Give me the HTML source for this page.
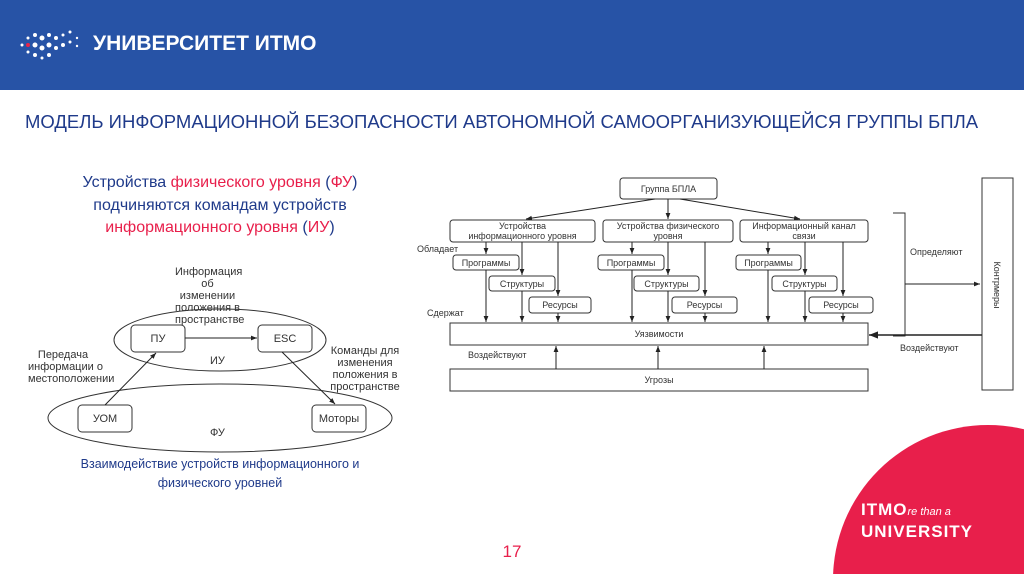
<!DOCTYPE html>
<html><head><meta charset="utf-8"><style>
html,body{margin:0;width:1024px;height:574px;overflow:hidden}
body{background:#fff;font-family:"Liberation Sans","DejaVu Sans",sans-serif;position:relative}
.hdr{position:absolute;left:0;top:0;width:1024px;height:90px;background:#2753a6}
.t{position:absolute;white-space:nowrap}
</style></head><body>
<div class="hdr"></div>
<svg style="position:absolute;left:0;top:0" width="1024" height="574">
<defs><marker id="a" viewBox="0 0 10 10" refX="10" refY="5" markerWidth="6" markerHeight="6" orient="auto"><path d="M0,1 L10,5 L0,9 z" fill="#222"/></marker></defs>
<g fill="#fff">
<circle cx="22" cy="45" r="1.5"/><circle cx="28" cy="38" r="1.5"/><circle cx="28" cy="52" r="1.5"/>
<circle cx="35" cy="35" r="2"/><circle cx="35" cy="45" r="2.5"/><circle cx="35" cy="55" r="2"/>
<circle cx="42" cy="38" r="2.5"/><circle cx="42" cy="48" r="2.5"/><circle cx="42" cy="58" r="1.5"/>
<circle cx="49" cy="35" r="2"/><circle cx="49" cy="45" r="2.5"/><circle cx="49" cy="55" r="2"/>
<circle cx="56" cy="38" r="2"/><circle cx="56" cy="48" r="2"/><circle cx="63" cy="35" r="1.5"/><circle cx="63" cy="45" r="2"/><circle cx="70" cy="32" r="1.5"/><circle cx="70" cy="42" r="1.5"/><circle cx="77" cy="38" r="1.2"/><circle cx="77" cy="46" r="1.2"/>
</g>
<circle cx="28" cy="45" r="2" fill="#e8244a"/>
<circle cx="988" cy="580" r="155" fill="#e81f4b"/>
<g fill="none" stroke="#333" stroke-width="1">
<ellipse cx="220" cy="340" rx="106" ry="31"/>
<ellipse cx="220" cy="418" rx="172" ry="34"/>
<rect x="131" y="325" width="54" height="27" rx="4"/>
<rect x="258" y="325" width="54" height="27" rx="4"/>
<rect x="78" y="405" width="54" height="27" rx="4"/>
<rect x="312" y="405" width="54" height="27" rx="4"/>
<rect x="620" y="178" width="97" height="21" rx="3"/>
<rect x="450" y="220" width="145" height="22" rx="3"/>
<rect x="603" y="220" width="130" height="22" rx="3"/>
<rect x="740" y="220" width="128" height="22" rx="3"/>
<rect x="453" y="255" width="66" height="15" rx="3"/><rect x="489" y="276" width="66" height="15" rx="3"/><rect x="529" y="297" width="62" height="16" rx="3"/>
<rect x="598" y="255" width="66" height="15" rx="3"/><rect x="634" y="276" width="65" height="15" rx="3"/><rect x="672" y="297" width="65" height="16" rx="3"/>
<rect x="736" y="255" width="65" height="15" rx="3"/><rect x="772" y="276" width="65" height="15" rx="3"/><rect x="809" y="297" width="64" height="16" rx="3"/>
<rect x="450" y="323" width="418" height="22"/>
<rect x="450" y="369" width="418" height="22"/>
<rect x="982" y="178" width="31" height="212"/>
<polyline points="893,213 905,213 905,336 893,336"/>
</g>
<g fill="none" stroke="#222" stroke-width="1" marker-end="url(#a)">
<line x1="185" y1="338" x2="257" y2="338"/>
<line x1="105" y1="405" x2="156" y2="353"/>
<line x1="282" y1="352" x2="335" y2="404"/>
<line x1="905" y1="284" x2="980" y2="284"/>
<line x1="982" y1="335" x2="869" y2="335" stroke-width="1.5"/>
<line x1="655" y1="199" x2="526" y2="219"/><line x1="668" y1="199" x2="668" y2="219"/><line x1="680" y1="199" x2="800" y2="219"/>
<line x1="486" y1="242" x2="486" y2="254"/><line x1="522" y1="242" x2="522" y2="275"/><line x1="558" y1="242" x2="558" y2="296"/>
<line x1="632" y1="242" x2="632" y2="254"/><line x1="668" y1="242" x2="668" y2="275"/><line x1="705" y1="242" x2="705" y2="296"/>
<line x1="768" y1="242" x2="768" y2="254"/><line x1="805" y1="242" x2="805" y2="275"/><line x1="843" y1="242" x2="843" y2="296"/>
<line x1="486" y1="270" x2="486" y2="322"/><line x1="522" y1="291" x2="522" y2="322"/><line x1="558" y1="313" x2="558" y2="322"/>
<line x1="632" y1="270" x2="632" y2="322"/><line x1="668" y1="291" x2="668" y2="322"/><line x1="705" y1="313" x2="705" y2="322"/>
<line x1="768" y1="270" x2="768" y2="322"/><line x1="805" y1="291" x2="805" y2="322"/><line x1="843" y1="313" x2="843" y2="322"/>
<line x1="556" y1="369" x2="556" y2="346"/><line x1="658" y1="369" x2="658" y2="346"/><line x1="764" y1="369" x2="764" y2="346"/>
</g>
<text x="512" y="557" font-size="17" fill="#e81f4b" text-anchor="middle" font-family="Liberation Sans">17</text>
</svg>
<div class="t" style="left:93px;top:32px;color:#fff;font-size:21px;font-weight:bold">УНИВЕРСИТЕТ ИТМО</div>
<div class="t" style="left:25px;top:111px;color:#1f3a8a;font-size:18.5px">МОДЕЛЬ ИНФОРМАЦИОННОЙ БЕЗОПАСНОСТИ АВТОНОМНОЙ САМООРГАНИЗУЮЩЕЙСЯ ГРУППЫ БПЛА</div>
<div class="t" style="left:20px;top:172px;width:400px;text-align:center;font-size:16px;line-height:22.5px;color:#1f3a8a">Устройства <span style="color:#e81f4b">физического уровня</span> (<span style="color:#e81f4b">ФУ</span>)<br>подчиняются командам устройств<br><span style="color:#e81f4b">информационного уровня</span> (<span style="color:#e81f4b">ИУ</span>)</div>
<div class="t" style="left:20px;top:455px;width:400px;text-align:center;font-size:12.5px;line-height:19px;color:#1f3a8a">Взаимодействие устройств информационного и<br>физического уровней</div>
<div style="position:absolute;left:0;top:0;font-size:11px;color:#333;line-height:12px">
<div class="t" style="left:175px;top:266px;width:65px;text-align:center">Информация<br>об<br>изменении<br>положения в<br>пространстве</div>
<div class="t" style="left:28px;top:349px;width:70px;text-align:center">Передача<br>информации о<br>местоположении</div>
<div class="t" style="left:325px;top:345px;width:80px;text-align:center">Команды для<br>изменения<br>положения в<br>пространстве</div>
<div class="t" style="left:131px;top:333px;width:54px;text-align:center">ПУ</div>
<div class="t" style="left:258px;top:333px;width:54px;text-align:center">ESC</div>
<div class="t" style="left:78px;top:413px;width:54px;text-align:center">УОМ</div>
<div class="t" style="left:312px;top:413px;width:54px;text-align:center">Моторы</div>
<div class="t" style="left:210px;top:355px">ИУ</div>
<div class="t" style="left:210px;top:427px">ФУ</div>
</div>
<div style="position:absolute;left:0;top:0;font-size:9px;color:#333;line-height:10px">
<div class="t" style="left:620px;top:184px;width:97px;text-align:center">Группа БПЛА</div>
<div class="t" style="left:450px;top:221px;width:145px;text-align:center">Устройства<br>информационного уровня</div>
<div class="t" style="left:603px;top:221px;width:130px;text-align:center">Устройства физического<br>уровня</div>
<div class="t" style="left:740px;top:221px;width:128px;text-align:center">Информационный канал<br>связи</div>
<div class="t" style="left:417px;top:244px">Обладает</div>
<div class="t" style="left:427px;top:308px">Сдержат</div>
<div class="t" style="left:453px;top:258px;width:66px;text-align:center">Программы</div>
<div class="t" style="left:489px;top:279px;width:66px;text-align:center">Структуры</div>
<div class="t" style="left:529px;top:300px;width:62px;text-align:center">Ресурсы</div>
<div class="t" style="left:598px;top:258px;width:66px;text-align:center">Программы</div>
<div class="t" style="left:634px;top:279px;width:65px;text-align:center">Структуры</div>
<div class="t" style="left:672px;top:300px;width:65px;text-align:center">Ресурсы</div>
<div class="t" style="left:736px;top:258px;width:65px;text-align:center">Программы</div>
<div class="t" style="left:772px;top:279px;width:65px;text-align:center">Структуры</div>
<div class="t" style="left:809px;top:300px;width:64px;text-align:center">Ресурсы</div>
<div class="t" style="left:450px;top:329px;width:418px;text-align:center">Уязвимости</div>
<div class="t" style="left:450px;top:375px;width:418px;text-align:center">Угрозы</div>
<div class="t" style="left:468px;top:350px">Воздействуют</div>
<div class="t" style="left:900px;top:343px">Воздействуют</div>
<div class="t" style="left:910px;top:247px">Определяют</div>
<div class="t" style="left:967px;top:280px;transform:rotate(90deg);width:60px;text-align:center">Контрмеры</div>
</div>
<div class="t" style="left:861px;top:500px;color:#fff;font-size:17px;font-weight:bold;letter-spacing:1px;line-height:19px">ITMO<span style="font-size:11px;font-style:italic;font-weight:normal;letter-spacing:0">re than a</span><br>UNIVERSITY</div>
</body></html>
